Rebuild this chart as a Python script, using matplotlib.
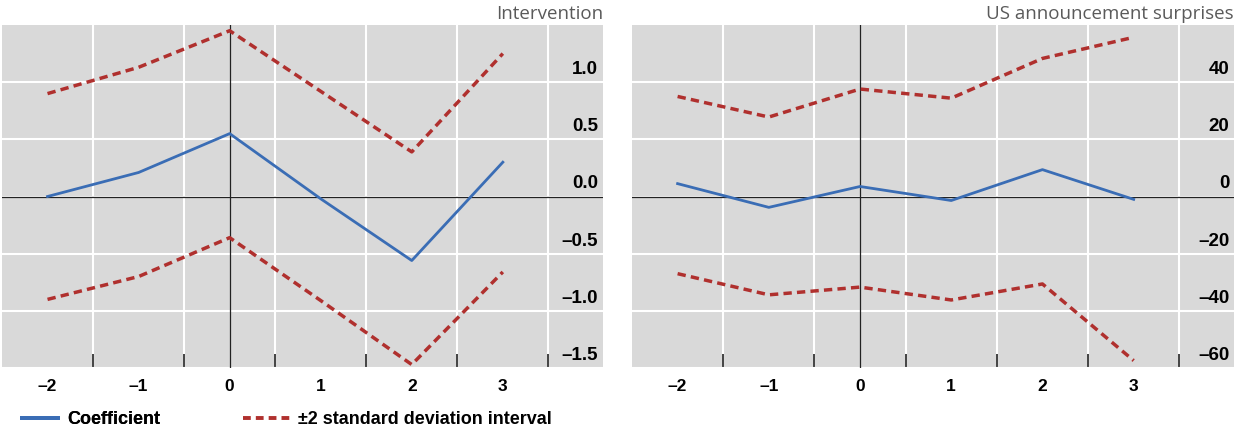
import matplotlib
matplotlib.use('Agg')
import matplotlib.pyplot as plt
import matplotlib.ticker as ticker
from matplotlib.lines import Line2D
from matplotlib.transforms import offset_copy

# ── Data ──────────────────────────────────────────────────────────────────────
HORIZON = [-2, -1, 0, 1, 2, 3]
X_LABELS = ['–2', '–1', '0', '1', '2', '3']

INTERV_COEF  = [0.00, 0.21, 0.55, -0.02, -0.56, 0.30]
INTERV_UPPER = [0.90, 1.13, 1.45, 0.92, 0.39, 1.25]
INTERV_LOWER = [-0.90, -0.70, -0.36, -0.91, -1.47, -0.66]
INTERV_YTICKS = [-1.5, -1.0, -0.5, 0.0, 0.5, 1.0]
INTERV_YLABELS = ['–1.5', '–1.0', '–0.5', '0.0', '0.5', '1.0']

US_COEF  = [4.5, -3.8, 3.5, -1.4, 9.4, -1.0]
US_UPPER = [35.0, 27.8, 37.6, 34.4, 48.3, 55.7]
US_LOWER = [-27.0, -34.4, -31.7, -36.2, -30.6, -57.4]
US_YTICKS = [-60, -40, -20, 0, 20, 40]
US_YLABELS = ['–60', '–40', '–20', '0', '20', '40']

GRID_X = [-1.5, -0.5, 0.5, 1.5, 2.5, 3.5]

BLUE = '#3a6db5'
RED = '#b0302e'
BG = '#d9d9d9'
DASH = (2.4, 1.5)
BOLD = dict(family=['Liberation Sans', 'DejaVu Sans'], weight='bold')

fig = plt.figure(figsize=(12.35, 4.32), dpi=100)
ax_l = fig.add_axes([2 / 1235, 1 - 368 / 432, 601 / 1235, 343 / 432])
ax_r = fig.add_axes([632 / 1235, 1 - 368 / 432, 602 / 1235, 343 / 432])


def draw_panel(ax, coef, upper, lower, yticks, ylabels, ylim, title):
    ax.set_facecolor(BG)
    ax.set_xlim(-2.5, 4.1)
    ax.set_ylim(*ylim)
    for s in ax.spines.values():
        s.set_visible(False)

    ax.xaxis.set_major_locator(ticker.FixedLocator(HORIZON))
    ax.xaxis.set_major_formatter(ticker.FixedFormatter(X_LABELS))
    ax.xaxis.set_minor_locator(ticker.FixedLocator(GRID_X))
    ax.tick_params(axis='x', which='major', length=0, pad=8)
    ax.tick_params(axis='x', which='minor', direction='in', length=10,
                   width=1.2, color='#222222')
    for lab in ax.get_xticklabels():
        lab.set_fontproperties(dict(BOLD, size=12.5))

    ax.set_yticks(yticks)
    ax.tick_params(axis='y', length=0, left=False, labelleft=False)
    ax.grid(which='minor', axis='x', color='white', lw=1.5)
    ax.grid(which='major', axis='y', color='white', lw=1.5)
    ax.set_axisbelow(True)

    ax.axhline(0, color='#222222', lw=0.9, zorder=1.5)
    ax.axvline(0, color='#222222', lw=0.9, zorder=1.5)

    ax.plot(HORIZON, upper, color=RED, lw=2.5, dashes=DASH, zorder=3)
    ax.plot(HORIZON, lower, color=RED, lw=2.5, dashes=DASH, zorder=3)
    ax.plot(HORIZON, coef, color=BLUE, lw=2.0, zorder=4)

    # y labels sit inside the plot, just above their gridlines
    tr = offset_copy(ax.get_yaxis_transform(), fig=fig, y=3, units='points')
    for v, lab in zip(yticks, ylabels):
        ax.text(0.992, v, lab, transform=tr, ha='right', va='bottom',
                fontsize=13.5, color='black', **BOLD)

    ax.set_title(title, loc='right', pad=4, fontsize=13.5, color='#5a5a5a',
                 family=['Open Sans', 'DejaVu Sans'])


draw_panel(ax_l, INTERV_COEF, INTERV_UPPER, INTERV_LOWER,
           INTERV_YTICKS, INTERV_YLABELS, (-1.5, 1.5), 'Intervention')
draw_panel(ax_r, US_COEF, US_UPPER, US_LOWER,
           US_YTICKS, US_YLABELS, (-60, 60), 'US announcement surprises')

# ── Legend (two pieces, as in the reference) ─────────────────────────────────
leg_font = dict(BOLD, size=13)
h_coef = Line2D([], [], color=BLUE, lw=2.8)
h_band = Line2D([], [], color=RED, lw=2.8, dashes=(2.0, 1.3))
leg1 = fig.legend(handles=[h_coef], labels=['Coefficient'],
                  loc='center left', bbox_to_anchor=(22 / 1235, 1 - 420 / 432),
                  frameon=False, borderpad=0, borderaxespad=0,
                  handlelength=2.0, handletextpad=0.5, prop=leg_font)
fig.add_artist(leg1)
fig.legend(handles=[h_band], labels=['±2 standard deviation interval'],
           loc='center left', bbox_to_anchor=(243 / 1235, 1 - 420 / 432),
           frameon=False, borderpad=0, borderaxespad=0,
           handlelength=2.6, handletextpad=0.45, prop=leg_font)

fig.savefig('out.png', dpi=100)
